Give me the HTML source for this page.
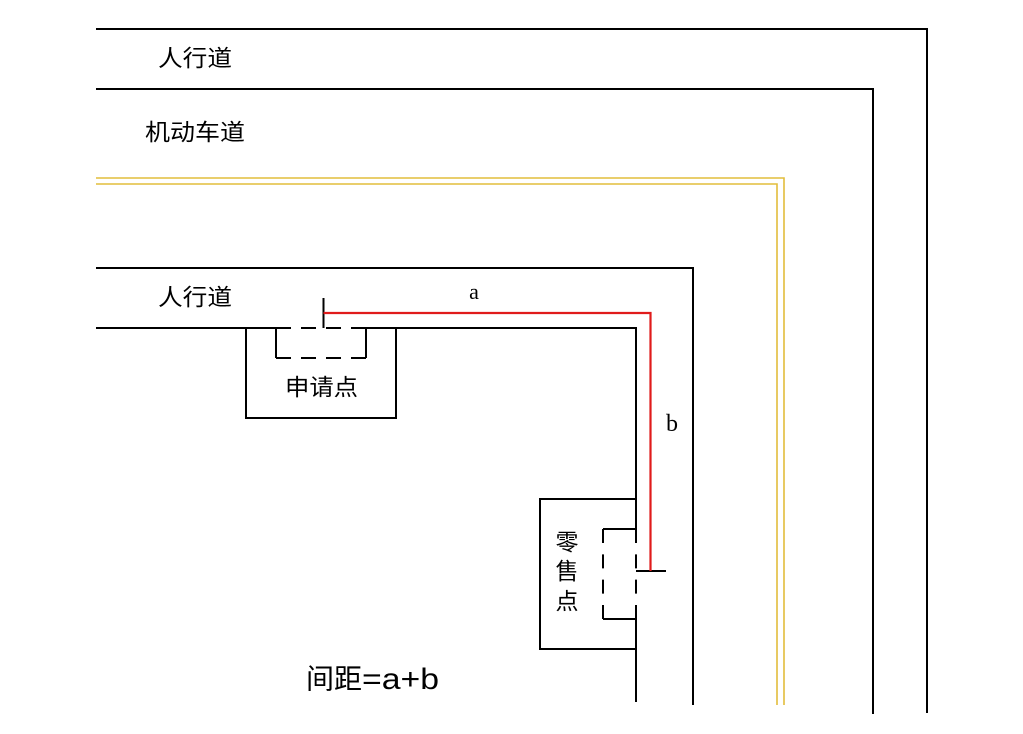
<!DOCTYPE html>
<html>
<head>
<meta charset="utf-8">
<style>
  html, body { margin:0; padding:0; background:#ffffff; }
  body { width:1023px; height:734px; overflow:hidden; }
  svg { display:block; }
  .cjk { font-family: "Liberation Sans", "Noto Sans CJK SC", "WenQuanYi Zen Hei", sans-serif; fill:#000; }
  .lat { font-family: "Liberation Serif", serif; fill:#000; }
</style>
</head>
<body>
<svg width="1023" height="734" viewBox="0 0 1023 734" xmlns="http://www.w3.org/2000/svg">
  <g fill="none" stroke="#000" stroke-width="2">
    <path d="M96,29 H927 V713"/>
    <path d="M96,89 H873 V714"/>
    <path d="M96,268 H693 V705"/>
    <path d="M96,328 H276"/>
    <path d="M366,328 H636 V529"/>
    <path d="M636,619 V702"/>
    <path d="M246,328 V418 H396 V328"/>
    <path d="M276,328 V358"/>
    <path d="M366,328 V358"/>
    <path d="M276,358 H366" stroke-dasharray="15 10"/>
    <path d="M276,328 H366" stroke-dasharray="15 10"/>
    <path d="M323.5,298 V328"/>
    <path d="M636,499 H540 V649 H636"/>
    <path d="M603,529 H636"/>
    <path d="M603,619 H636"/>
    <path d="M603,529 V619" stroke-dasharray="14 11.33"/>
    <path d="M636,529 V619" stroke-dasharray="14 11.33"/>
    <path d="M636,571 H666"/>
  </g>
  <g fill="none" stroke="#e2bd3c" stroke-width="1.6">
    <path d="M96,178 H784 V705"/>
    <path d="M96,184 H777 V705"/>
  </g>
  <path d="M323.5,313 H650.5 V571" fill="none" stroke="#e01b1b" stroke-width="2.2"/>

  <text class="cjk" x="158" y="58" font-size="23" dominant-baseline="central" textLength="74" lengthAdjust="spacingAndGlyphs">人行道</text>
  <text class="cjk" x="145" y="132" font-size="23" dominant-baseline="central" textLength="100" lengthAdjust="spacingAndGlyphs">机动车道</text>
  <text class="cjk" x="158" y="297" font-size="23" dominant-baseline="central" textLength="74" lengthAdjust="spacingAndGlyphs">人行道</text>
  <text class="cjk" x="285" y="387" font-size="23" dominant-baseline="central" textLength="73" lengthAdjust="spacingAndGlyphs">申请点</text>
  <text class="cjk" x="567" y="542" font-size="23" text-anchor="middle" dominant-baseline="central">零</text>
  <text class="cjk" x="567" y="571" font-size="23" text-anchor="middle" dominant-baseline="central">售</text>
  <text class="cjk" x="567" y="601" font-size="23" text-anchor="middle" dominant-baseline="central">点</text>

  <text class="lat" x="474" y="299" font-size="22" text-anchor="middle">a</text>
  <text class="lat" x="672" y="431" font-size="24" text-anchor="middle">b</text>

  <text class="cjk" x="306" y="679" font-size="28" dominant-baseline="central" textLength="56" lengthAdjust="spacingAndGlyphs">间距</text>
  <text x="362" y="689" font-size="30" font-family="Liberation Sans, sans-serif" fill="#000" textLength="77" lengthAdjust="spacingAndGlyphs">=a+b</text>
</svg>
</body>
</html>
